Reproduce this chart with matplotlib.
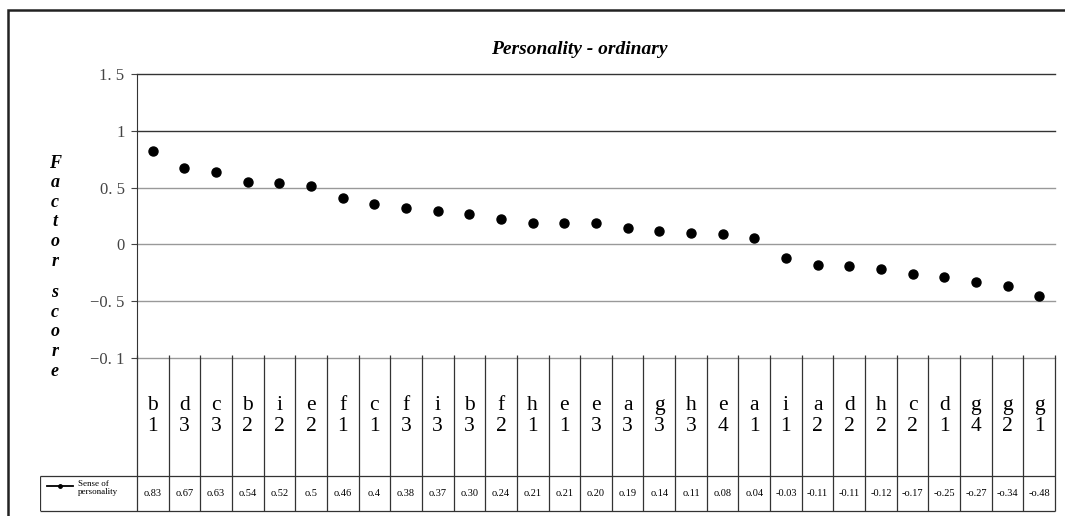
import numpy as np
import matplotlib
matplotlib.use('Agg')
import matplotlib.pyplot as plt
from matplotlib.patches import Rectangle

# categories in plotting order
categories = ['b1', 'd3', 'c3', 'b2', 'i2', 'e2', 'f1', 'c1', 'f3', 'i3',
              'b3', 'f2', 'h1', 'e1', 'e3', 'a3', 'g3', 'h3', 'e4', 'a1',
              'i1', 'a2', 'd2', 'h2', 'c2', 'd1', 'g4', 'g2', 'g1']
# factor scores as the dots sit on the chart
scores = [0.82, 0.67, 0.64, 0.55, 0.54, 0.51, 0.41, 0.36, 0.32, 0.29,
          0.27, 0.22, 0.19, 0.19, 0.19, 0.14, 0.12, 0.10, 0.09, 0.06,
          -0.12, -0.18, -0.19, -0.22, -0.26, -0.29, -0.33, -0.37, -0.45]
# values printed in the table row (as printed)
table_labels = ['o.83', 'o.67', 'o.63', 'o.54', 'o.52', 'o.5', 'o.46', 'o.4',
                'o.38', 'o.37', 'o.30', 'o.24', 'o.21', 'o.21', 'o.20', 'o.19',
                'o.14', 'o.11', 'o.08', 'o.04', '-0.03', '-0.11', '-0.11',
                '-0.12', '-o.17', '-o.25', '-o.27', '-o.34', '-o.48']
yticks = [1.5, 1, 0.5, 0, -0.5, -1]
ytick_labels = ['1. 5', '1', '0. 5', '0', '\u22120. 5', '\u22120. 1']

W, H = 1065, 516
serif = 'Liberation Serif'


def box(l, t, r, b):
    # pixel box -> figure fraction
    return [l / W, 1 - b / H, (r - l) / W, (b - t) / H]


fig = plt.figure(figsize=(W / 100, H / 100), dpi=100)

# outer frame
fig.add_artist(Rectangle((8 / W, -0.1), 1.2, 1.1 - 10 / H, transform=fig.transFigure,
                         fill=False, lw=1.8, ec='#222222'))

n = len(categories)
x = np.arange(n) + 0.5

ax = fig.add_axes(box(137, 74, 1055, 358))
ax.set_xlim(0, n)
ax.set_ylim(-1, 1.5)
for v in yticks:
    c = '#333333' if v >= 1 else '#999999'
    ax.axhline(v, color=c, lw=1.0, zorder=1, clip_on=False)
ax.plot(x, scores, 'o', color='black', ms=6.5, zorder=3)
ax.set_yticks(yticks)
ax.set_yticklabels(ytick_labels, fontsize=12, family=serif, color='#444444')
ax.set_xticks([])
ax.tick_params(axis='y', length=4, color='#444444', pad=5)
for s in ['top', 'right', 'bottom']:
    ax.spines[s].set_visible(False)
ax.spines['left'].set_color('#333333')
ax.set_facecolor('none')

fig.text(579 / W, 1 - 50 / H, 'Personality - ordinary', ha='center', va='center',
         fontsize=14, fontweight='bold', style='italic', family=serif)
fig.text(55 / W, 1 - 212 / H, 'F\na\nc\nt\no\nr', ha='center', va='center',
         fontsize=13, fontweight='bold', style='italic', family=serif, linespacing=1.2)
fig.text(55 / W, 1 - 332 / H, 's\nc\no\nr\ne', ha='center', va='center',
         fontsize=13, fontweight='bold', style='italic', family=serif, linespacing=1.2)

# table below the axes (y in pixel rows, x in category units)
col_w = (1055 - 137) / n
x0 = -(137 - 40) / col_w
tax = fig.add_axes(box(40, 358, 1055, 511))
tax.set_xlim(x0, n)
tax.set_ylim(511, 358)
tax.axis('off')
tax.vlines(np.arange(n + 1), 511, 355, color='#333333', lw=0.9, clip_on=False)
tax.hlines([476, 511], x0, n, color='#333333', lw=0.9, clip_on=False)
tax.vlines(x0, 476, 511, color='#333333', lw=0.9)
for i, c in enumerate(categories):
    tax.text(i + 0.5, 416, c[0] + '\n' + c[1], ha='center', va='center',
             fontsize=15.5, family=serif, linespacing=1.12)
    tax.text(i + 0.5, 493, table_labels[i], ha='center', va='center',
             fontsize=7.5, family=serif)
# legend cell
lx = [x0 + 7 / col_w, x0 + 33 / col_w]
tax.plot(lx, [486, 486], color='black', lw=1.3)
tax.plot([np.mean(lx)], [486], 'o', color='black', ms=2.5)
tax.text(x0 + 38 / col_w, 488, 'Sense of\npersonality', ha='left', va='center',
         fontsize=6.5, family=serif, linespacing=0.95)

fig.savefig('out.png', dpi=100)
